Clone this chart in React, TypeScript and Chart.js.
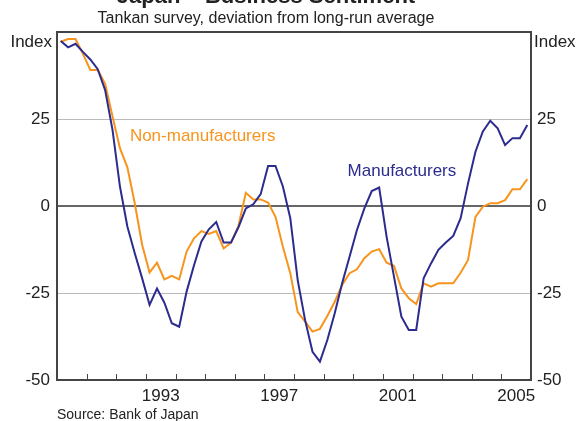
import React, { useEffect, useRef } from 'react';
import { Chart, registerables } from 'chart.js';

Chart.register(...registerables);

const FONT = 'Arial, "Liberation Sans", Helvetica, sans-serif';

const FIRST_YEAR = 1990;
const LAST_YEAR = 2006;
const yearLabels = [1993, 1997, 2001, 2005];
const yMin = -50;
const yMax = 50;
const yStep = 25;

const TITLE = 'Japan – Business Sentiment';
const SUBTITLE = 'Tankan survey, deviation from long-run average';
const SOURCE = 'Source: Bank of Japan';
const UNIT = 'Index';

// Quarterly, 1990Q1 .. 2005Q4
const manufacturers = [
  47.4, 45.6, 46.6, 44.3, 42.1, 39.3, 33.3, 21.8,
  5.6, -5.9, -13.6, -20.8, -28.4, -23.7, -27.8, -33.7,
  -34.7, -24.6, -17.0, -10.2, -6.7, -4.6, -10.5, -10.5,
  -6.1, -0.7, 0.5, 3.4, 11.5, 11.5, 5.6, -3.5,
  -21.3, -32.8, -41.9, -44.7, -38.5, -30.8, -22.2, -14.6,
  -6.9, -0.7, 4.3, 5.3, -8.8, -20.3, -31.8, -35.6,
  -35.6, -20.8, -16.5, -12.6, -10.5, -8.6, -3.5, 6.5,
  15.6, 21.4, 24.5, 22.3, 17.5, 19.5, 19.5, 23.3,
];

const nonManufacturers = [
  47.2, 48.0, 48.0, 43.7, 39.1, 39.1, 35.1, 25.7,
  16.6, 11.1, 0.8, -11.2, -19.1, -16.3, -21.1, -20.1,
  -21.1, -13.1, -9.3, -7.2, -8.0, -7.2, -12.2, -10.5,
  -5.7, 3.8, 1.9, 1.9, 1.0, -3.1, -11.7, -19.3,
  -30.5, -33.2, -36.1, -35.3, -31.6, -27.5, -22.7, -19.3,
  -18.2, -15.0, -13.1, -12.4, -16.3, -17.2, -23.7, -26.5,
  -28.2, -22.2, -23.2, -22.2, -22.2, -22.2, -19.2, -15.5,
  -3.1, -0.2, 0.8, 0.8, 1.7, 4.8, 4.8, 7.7,
];

const seriesNames = ['Manufacturers', 'Non-manufacturers'];
const seriesColors = ['#2B2C8E', '#F7941D'];
// label anchor positions in data units [year, index]
const labelPositions = [
  [1999.81, 10.1],
  [1992.46, 20.1],
];

const toPoints = (vals: number[]) =>
  vals.map((v, i) => ({ x: FIRST_YEAR + (i + 0.5) / 4, y: v }));

const decorPlugin = {
  id: 'decor',
  afterDatasetsDraw(chart: any) {
    const { ctx, chartArea, scales } = chart;
    const { left, right, top, bottom } = chartArea;
    ctx.save();
    // year tick marks inside bottom axis
    ctx.strokeStyle = '#444';
    ctx.lineWidth = 1;
    for (let y = FIRST_YEAR + 1; y < LAST_YEAR; y++) {
      const x = Math.round(scales.x.getPixelForValue(y)) + 0.5;
      ctx.beginPath();
      ctx.moveTo(x, bottom);
      ctx.lineTo(x, bottom - 6);
      ctx.stroke();
    }
    // frame
    ctx.strokeStyle = '#444';
    ctx.lineWidth = 2;
    ctx.strokeRect(left, top, right - left, bottom - top);
    ctx.restore();
  },
  afterDraw(chart: any) {
    const { ctx, chartArea, scales } = chart;
    ctx.save();
    ctx.fillStyle = '#222';
    ctx.textBaseline = 'alphabetic';
    ctx.textAlign = 'center';
    ctx.font = `bold 22px ${FONT}`;
    ctx.fillText(TITLE, 266, 3);
    ctx.font = `16px ${FONT}`;
    ctx.fillText(SUBTITLE, 266, 23);
    ctx.font = `17px ${FONT}`;
    ctx.textAlign = 'right';
    ctx.fillText(UNIT, chartArea.left - 5, 47);
    ctx.textAlign = 'left';
    ctx.fillText(UNIT, chartArea.right + 3, 47);
    ctx.font = `14px ${FONT}`;
    ctx.fillText(SOURCE, chartArea.left, 419);
    // series labels
    ctx.font = `17px ${FONT}`;
    ctx.textBaseline = 'middle';
    seriesNames.forEach((name, i) => {
      ctx.fillStyle = seriesColors[i];
      const [lx, ly] = labelPositions[i];
      ctx.fillText(name, scales.x.getPixelForValue(lx), scales.y.getPixelForValue(ly));
    });
    ctx.restore();
  },
};

const yTickCallback = (v: any) => (v === yMax ? '' : String(v));

export default function App() {
  const ref = useRef<HTMLCanvasElement | null>(null);
  useEffect(() => {
    if (!ref.current) return;
    Chart.defaults.font.family = FONT;
    const chart = new Chart(ref.current, {
      type: 'line',
      data: {
        datasets: [
          {
            label: seriesNames[0],
            data: toPoints(manufacturers),
            borderColor: seriesColors[0],
            borderWidth: 2,
            pointRadius: 0,
            tension: 0,
            yAxisID: 'y',
          },
          {
            label: seriesNames[1],
            data: toPoints(nonManufacturers),
            borderColor: seriesColors[1],
            borderWidth: 2,
            pointRadius: 0,
            tension: 0,
            yAxisID: 'y',
          },
        ],
      },
      options: {
        responsive: false,
        animation: false,
        devicePixelRatio: 1,
        layout: { padding: { top: 32, left: 0, right: 0, bottom: 0 } },
        plugins: {
          legend: { display: false },
          tooltip: { enabled: false },
          title: { display: false },
        },
        scales: {
          x: {
            type: 'linear',
            min: FIRST_YEAR,
            max: LAST_YEAR,
            afterBuildTicks: (s: any) => {
              s.ticks = yearLabels.map((y) => ({ value: y + 0.5 }));
            },
            afterFit: (s: any) => {
              s.height = 41;
            },
            ticks: {
              autoSkip: false,
              maxRotation: 0,
              padding: 6,
              color: '#222',
              font: { size: 17, family: FONT },
              callback: (v: any) => String(Math.floor(v)),
            },
            grid: { display: false, drawTicks: false },
            border: { display: false },
          },
          y: {
            position: 'left',
            min: yMin,
            max: yMax,
            afterFit: (s: any) => {
              s.width = 57;
            },
            ticks: {
              stepSize: yStep,
              padding: 7,
              color: '#222',
              font: { size: 17, family: FONT },
              callback: yTickCallback,
            },
            grid: {
              drawTicks: false,
              color: (c: any) =>
                c.tick && c.tick.value === 0
                  ? '#666'
                  : c.tick && Math.abs(c.tick.value) === 25
                  ? '#bbb'
                  : 'rgba(0,0,0,0)',
              lineWidth: (c: any) => (c.tick && c.tick.value === 0 ? 2 : 1),
            },
            border: { display: false },
          },
          y2: {
            position: 'right',
            min: yMin,
            max: yMax,
            afterFit: (s: any) => {
              s.width = 46;
            },
            ticks: {
              stepSize: yStep,
              padding: 6,
              color: '#222',
              font: { size: 17, family: FONT },
              callback: yTickCallback,
            },
            grid: { display: false, drawTicks: false },
            border: { display: false },
          },
        },
      },
      plugins: [decorPlugin],
    } as any);
    return () => chart.destroy();
  }, []);
  return (
    <div style={{ position: 'absolute', left: 0, top: 0, width: 577, height: 421, background: '#fff' }}>
      <canvas ref={ref} width={577} height={421} style={{ display: 'block' }} />
    </div>
  );
}
